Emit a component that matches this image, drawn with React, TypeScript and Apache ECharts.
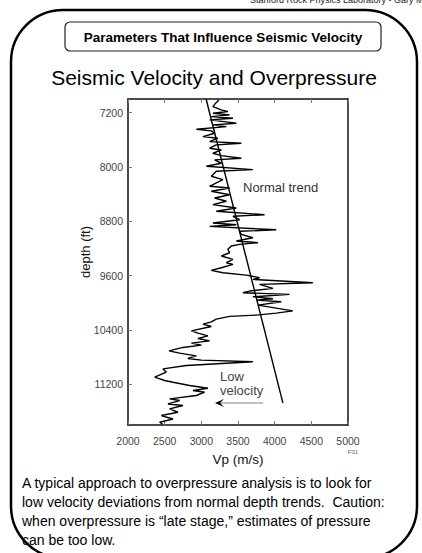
import React, { useEffect, useRef } from "react";
import * as echarts from "echarts";

// ---- data ----
const depthTicks = [7200, 8000, 8800, 9600, 10400, 11200];
const vpTicks = [2000, 2500, 3000, 3500, 4000, 4500, 5000];

const logVp = [
  3240, 3195, 3158, 3273, 3362, 3158, 3386, 3136, 3431, 3113, 3477, 3158, 3341, 2932, 3136, 3181,
  3022, 3226, 3113, 3545, 3204, 3113, 3273, 3158, 3273, 3545, 3181, 3273, 3068, 3703, 3204, 3136,
  3294, 3204, 3113, 3386, 3136, 3386, 3181, 3341, 3158, 3477, 3204, 3862, 3431, 3522, 3158, 3477,
  3113, 4022, 3522, 3545, 3703, 3477, 3771, 3522, 3409, 3362, 3386, 3273, 3431, 3341, 3431, 3273,
  3136, 3294, 3613, 3794, 3703, 4520, 3794, 3976, 3658, 3567, 4203, 3703, 3976, 3749, 4090, 3771,
  4248, 4022, 3749, 3386, 3204, 3136, 3022, 3136, 2864, 2954, 3090, 2954, 3113, 2864, 3000, 2749,
  2559, 2704, 2932, 2817, 3000, 3703, 2796, 2477, 2523, 2364, 2500, 2613, 2841, 3090, 2886, 3045,
  2932, 2568, 2704, 2545, 2749, 2568, 2681, 2455, 2613, 2432, 2473,
];
const logDepth = [
  7013, 7061, 7112, 7160, 7185, 7209, 7234, 7259, 7283, 7308, 7356, 7381, 7406, 7445, 7470, 7504,
  7554, 7577, 7628, 7651, 7676, 7725, 7750, 7799, 7834, 7872, 7897, 7946, 7990, 8040, 8064, 8138,
  8188, 8236, 8285, 8310, 8359, 8409, 8457, 8506, 8556, 8605, 8653, 8704, 8727, 8777, 8826, 8851,
  8875, 8925, 8948, 8993, 9043, 9091, 9116, 9140, 9165, 9214, 9264, 9312, 9361, 9411, 9435, 9485,
  9523, 9559, 9593, 9632, 9656, 9706, 9730, 9789, 9828, 9853, 9877, 9912, 9942, 9961, 9986, 10035,
  10119, 10153, 10182, 10201, 10241, 10281, 10315, 10349, 10414, 10447, 10487, 10526, 10561, 10595, 10624, 10658,
  10708, 10742, 10782, 10820, 10845, 10868, 10924, 10974, 11022, 11096, 11145, 11170, 11218, 11258, 11292, 11317,
  11366, 11416, 11440, 11490, 11513, 11563, 11612, 11661, 11711, 11759, 11789,
];

const trendVp = [3065, 4112];
const trendDepth = [7000, 11475];

const paragraphLines = [
  "A typical approach to overpressure analysis is to look for",
  "low velocity deviations from normal depth trends.  Caution:",
  "when overpressure is \u201clate stage,\u201d estimates of pressure",
  "can be too low.",
];

const FONT = "'Liberation Sans', Arial, Helvetica, sans-serif";

export default function App() {
  const ref = useRef<HTMLDivElement>(null);

  useEffect(() => {
    if (!ref.current) return;
    const chart = echarts.init(ref.current, null, { renderer: "svg" });

    const logData = logVp.map((v, i) => [v, logDepth[i]]);
    const trendData = trendVp.map((v, i) => [v, trendDepth[i]]);

    const paragraph = paragraphLines.map((t, i) => ({
      type: "text",
      x: 22,
      y: 483 + i * 19,
      style: { text: t, font: `14px ${FONT}`, fill: "#000", align: "left", verticalAlign: "middle" },
    }));

    const plain = (v: number) => String(v);

    chart.setOption({
      animation: false,
      backgroundColor: "#fff",
      textStyle: { fontFamily: FONT },
      grid: { left: 128, top: 99, width: 220, height: 326 },
      xAxis: [
        {
          type: "value",
          position: "bottom",
          min: vpTicks[0],
          max: vpTicks[vpTicks.length - 1],
          interval: 500,
          name: "Vp (m/s)",
          nameLocation: "middle",
          nameGap: 27,
          nameTextStyle: { fontSize: 13.5, color: "#111", fontFamily: FONT },
          axisLine: { show: true, lineStyle: { color: "#111", width: 1.5 } },
          axisTick: { show: true, inside: true, length: 4, lineStyle: { color: "#777", width: 1 } },
          axisLabel: { fontSize: 10.5, color: "#444", margin: 10, fontFamily: FONT, formatter: plain },
          splitLine: { show: false },
        },
        {
          type: "value",
          position: "top",
          min: vpTicks[0],
          max: vpTicks[vpTicks.length - 1],
          interval: 500,
          axisLine: { show: true, lineStyle: { color: "#111", width: 1.5 } },
          axisTick: { show: true, inside: true, length: 4, lineStyle: { color: "#777", width: 1 } },
          axisLabel: { show: false },
          splitLine: { show: false },
        },
      ],
      yAxis: [
        {
          type: "value",
          inverse: true,
          position: "left",
          min: 7000,
          max: 11800,
          axisLine: { show: true, lineStyle: { color: "#111", width: 1.5 } },
          axisTick: { show: true, inside: true, length: 4, customValues: depthTicks, lineStyle: { color: "#777", width: 1 } },
          axisLabel: { fontSize: 10.5, color: "#444", margin: 5, customValues: depthTicks, fontFamily: FONT, formatter: plain },
          splitLine: { show: false },
        },
        {
          type: "value",
          inverse: true,
          position: "right",
          min: 7000,
          max: 11800,
          axisLine: { show: true, lineStyle: { color: "#111", width: 1.5 } },
          axisTick: { show: false },
          axisLabel: { show: false },
          splitLine: { show: false },
        },
      ],
      series: [
        {
          type: "line",
          name: "Vp log",
          xAxisIndex: 0,
          yAxisIndex: 0,
          data: logData,
          showSymbol: false,
          symbol: "none",
          lineStyle: { color: "#000", width: 1.4 },
          z: 3,
        },
        {
          type: "line",
          name: "Normal trend",
          xAxisIndex: 0,
          yAxisIndex: 0,
          data: trendData,
          showSymbol: false,
          symbol: "none",
          lineStyle: { color: "#000", width: 1.4 },
          z: 4,
        },
      ],
      graphic: [
        {
          type: "rect",
          shape: { x: 11, y: 10, width: 406, height: 548, r: 52 },
          style: { fill: "none", stroke: "#000", lineWidth: 2.5 },
          silent: true,
        },
        {
          type: "text",
          x: 250,
          y: 0,
          style: { text: "Stanford Rock Physics Laboratory - Gary Mavko", font: `9px ${FONT}`, fill: "#222", align: "left", verticalAlign: "middle" },
        },
        {
          type: "rect",
          shape: { x: 65, y: 22, width: 316, height: 29, r: 5 },
          style: { fill: "#fff", stroke: "#222", lineWidth: 1.2 },
        },
        {
          type: "text",
          x: 223,
          y: 37,
          style: { text: "Parameters That Influence Seismic Velocity", font: `bold 13.5px ${FONT}`, fill: "#000", align: "center", verticalAlign: "middle" },
        },
        {
          type: "text",
          x: 214,
          y: 77,
          style: { text: "Seismic Velocity and Overpressure", font: `21px ${FONT}`, fill: "#000", align: "center", verticalAlign: "middle" },
        },
        {
          type: "text",
          x: 85,
          y: 252,
          rotation: Math.PI / 2,
          style: { text: "depth (ft)", font: `13px ${FONT}`, fill: "#111", align: "center", verticalAlign: "middle" },
        },
        {
          type: "text",
          x: 243,
          y: 187,
          style: { text: "Normal trend", font: `13px ${FONT}`, fill: "#333", align: "left", verticalAlign: "middle" },
        },
        {
          type: "text",
          x: 220,
          y: 383,
          style: { text: "Low\nvelocity", font: `13px ${FONT}`, lineHeight: 14, fill: "#444", align: "left", verticalAlign: "middle" },
        },
        {
          type: "line",
          shape: { x1: 263, y1: 403, x2: 218, y2: 403 },
          style: { stroke: "#aaa", lineWidth: 1.5 },
        },
        {
          type: "polygon",
          shape: { points: [[224, 399], [215, 403], [224, 407], [220, 403]] },
          style: { fill: "#000" },
        },
        {
          type: "text",
          x: 353,
          y: 452,
          style: { text: "F31", font: `6px ${FONT}`, fill: "#666", align: "center", verticalAlign: "middle" },
        },
        ...paragraph,
      ],
    });

    return () => chart.dispose();
  }, []);

  return (
    <div
      ref={ref}
      style={{ position: "fixed", left: 0, top: 0, width: 422, height: 553, background: "#fff" }}
    />
  );
}
